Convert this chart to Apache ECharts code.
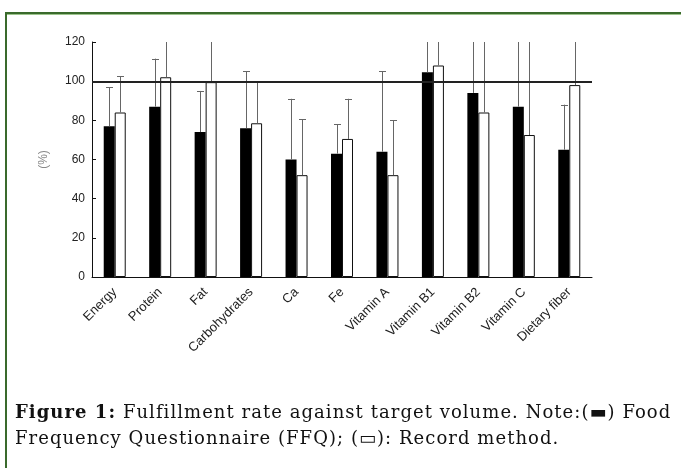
<!DOCTYPE html>
<html>
<head>
<meta charset="utf-8">
<script src="https://cdn.jsdelivr.net/npm/echarts@6/dist/echarts.min.js"></script>
<style>
  html, body { margin: 0; padding: 0; background: #fff; }
  #wrap { position: relative; width: 681px; height: 468px; overflow: hidden; }
  #chart { position: absolute; left: 0; top: 0; width: 681px; height: 468px; }
  #frameTop { position: absolute; left: 5px; top: 12px; width: 676px; height: 2px; background: #3a6a2c; border-bottom: 1px solid #9cc48c; }
  #frameLeft { position: absolute; left: 5px; top: 12px; width: 2px; height: 456px; background: #3a6a2c; }
  #caption { position: absolute; left: 15px; top: 399px; width: 666px; white-space: nowrap; font-family: "DejaVu Serif", "Liberation Serif", serif; font-size: 18px; letter-spacing: 1.05px; line-height: 26px; color: #111; }
  #caption b { font-weight: bold; }
</style>
</head>
<body>
<div id="wrap">
  <div id="chart"></div>
  <div id="frameTop"></div>
  <div id="frameLeft"></div>
  <div id="caption"><b>Figure 1:</b> Fulfillment rate against target volume. Note:(&#9644;) Food<br>Frequency Questionnaire (FFQ); (&#9645;): Record method.</div>
</div>
<script>
const categories = ['Energy', 'Protein', 'Fat', 'Carbohydrates', 'Ca', 'Fe', 'Vitamin A', 'Vitamin B1', 'Vitamin B2', 'Vitamin C', 'Dietary fiber'];
const ffqValues = [77, 87, 74, 76, 60, 63, 64, 104.5, 94, 87, 65];
const recordValues = [84, 102, 99.5, 78.5, 52, 70.5, 52, 108, 84, 72.5, 98];
const ffqUpper = [97, 111.5, 95, 105, 91, 78, 105, 130, 130, 130, 88];
const recordUpper = [102.5, 130, 130, 99.5, 80.5, 91, 80, 130, 130, 130, 130];
const yTicks = [0, 20, 40, 60, 80, 100, 120];
const targetLine = 99.5;

const yMin = yTicks[0];
const yMax = yTicks[yTicks.length - 1];
const yStep = yTicks[1] - yTicks[0];
const sansFont = "'Liberation Sans', Arial, sans-serif";

const chart = echarts.init(document.getElementById('chart'), null, { renderer: 'canvas' });

function errorSeries(values, uppers, offset) {
  return {
    type: 'custom',
    z: 3,
    data: values.map((v, i) => [i, v, uppers[i]]),
    renderItem: function (params, api) {
      const idx = api.value(0);
      const base = api.coord([idx, api.value(1)]);
      const upVal = api.value(2);
      const clipped = upVal > yMax;
      const top = api.coord([idx, clipped ? yMax : upVal]);
      const x = Math.round(base[0] + offset) + 0.5;
      const children = [{
        type: 'line',
        shape: { x1: x, y1: base[1], x2: x, y2: top[1] },
        style: { stroke: '#666', lineWidth: 1 }
      }];
      if (!clipped) {
        children.push({
          type: 'line',
          shape: { x1: x - 3.5, y1: Math.round(top[1]) + 0.5, x2: x + 3.5, y2: Math.round(top[1]) + 0.5 },
          style: { stroke: '#666', lineWidth: 1 }
        });
      }
      return { type: 'group', children: children };
    }
  };
}

chart.setOption({
  animation: false,
  grid: { left: 92, right: 89, top: 42, bottom: 191, containLabel: false },
  xAxis: {
    type: 'category',
    data: categories,
    axisLine: { lineStyle: { color: '#111', width: 1 } },
    axisTick: { show: false },
    axisLabel: { interval: 0, rotate: 45, fontSize: 13, color: '#222', fontFamily: sansFont, margin: 13 }
  },
  yAxis: {
    type: 'value',
    min: yMin, max: yMax, interval: yStep,
    name: '(%)',
    nameLocation: 'middle',
    nameRotate: 90,
    nameGap: 42,
    nameTextStyle: { color: '#888', fontSize: 12, fontFamily: sansFont },
    axisLine: { show: true, lineStyle: { color: '#111', width: 1 } },
    axisTick: { show: true, inside: true, length: 4, lineStyle: { color: '#111' } },
    axisLabel: { fontSize: 12, color: '#222', fontFamily: sansFont, margin: 7 },
    splitLine: { show: false }
  },
  series: [
    {
      name: 'FFQ', type: 'bar', data: ffqValues, barWidth: 11, barGap: '0%',
      itemStyle: { color: '#000', borderColor: '#000', borderWidth: 0 }
    },
    {
      name: 'Record method', type: 'bar', data: recordValues, barWidth: 11, barGap: '0%',
      itemStyle: { color: '#fff', borderColor: '#111', borderWidth: 1 },
      markLine: {
        silent: true, symbol: 'none', z: 10,
        label: { show: false },
        lineStyle: { color: '#222', width: 2, type: 'solid' },
        data: [{ yAxis: targetLine }]
      }
    },
    errorSeries(ffqValues, ffqUpper, -5.5),
    errorSeries(recordValues, recordUpper, 5.5)
  ]
});
</script>
</body>
</html>
